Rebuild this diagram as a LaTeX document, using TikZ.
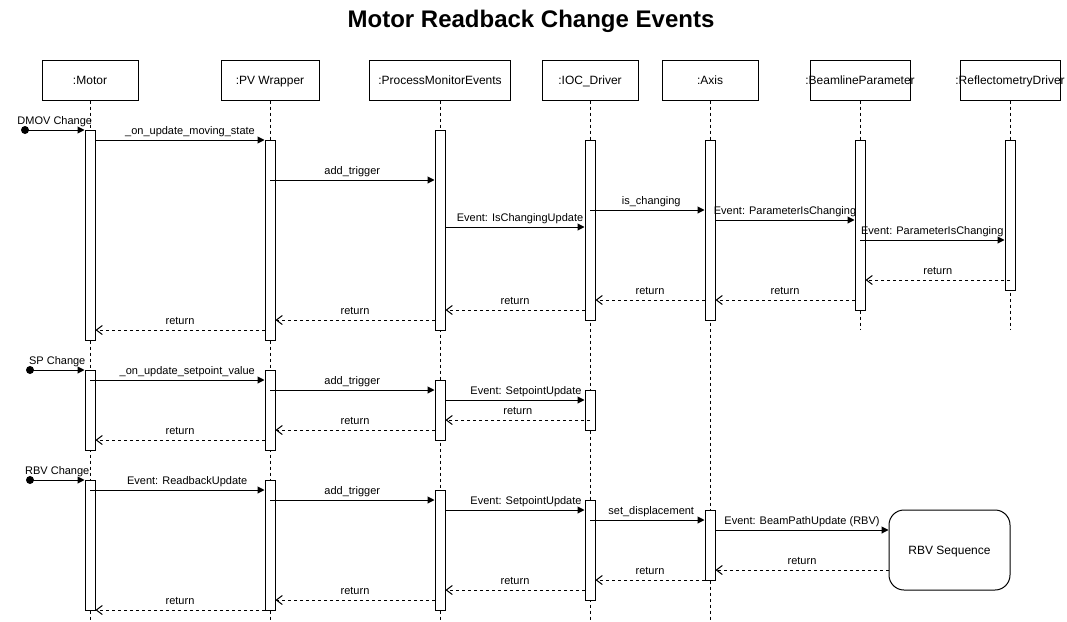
\documentclass[tikz,border=0pt]{standalone}
\usepackage{fontspec}
\setmainfont{Liberation Sans}
\usepackage{tikz}
\usetikzlibrary{arrows}
\usetikzlibrary{arrows.meta}

\tikzset{
  head/.style={draw, line width=1pt, minimum height=40pt, inner sep=0pt, text height=8.6pt, text depth=0pt, font=\fontsize{12}{14}\selectfont},
  life/.style={line width=1pt, dash pattern=on 3pt off 3pt},
  act/.style={draw, fill=white, line width=1pt, minimum width=10pt, inner sep=0pt, anchor=north},
  call/.style={line width=1pt, -{Triangle[length=7pt,width=7pt]}},
  ret/.style={line width=1pt, dash pattern=on 3pt off 3pt, -{Straight Barb[length=6pt,width=9pt]}},
  lbl/.style={anchor=base, yshift=5.5pt, inner sep=0pt, font=\fontsize{11}{13}\selectfont},
  seqbox/.style={draw, line width=1pt, rounded corners=15pt, minimum width=121pt, minimum height=80pt, text height=8.6pt, text depth=0pt, font=\fontsize{12}{14}\selectfont}
}

\begin{document}
\begin{tikzpicture}[x=1pt,y=-1pt]
\useasboundingbox (0,0) rectangle (1067,621);
\node[font=\fontsize{24}{29}\selectfont\bfseries] (title) at (531,21) {Motor Readback Change Events};

% lifelines
\foreach \nm/\x/\w/\txt in {mot/90/96/:Motor, pvw/270/98/:PV Wrapper, pme/440/141/:ProcessMonitorEvents,
    ioc/590/96/:IOC\_Driver, axis/710/96/:Axis, bp/860/100/:BeamlineParameter, rd/1010/100/:ReflectometryDriver}
  \node[head, minimum width=\w pt] (\nm) at (\x,80) {\makebox[0pt]{\txt}};
\foreach \nm/\e in {mot/620, pvw/620, pme/620, ioc/620, axis/620, bp/330, rd/330}
  \draw[life] (\nm.south) -- (\nm.south |- 0,\e);

% activations
\foreach \nm/\ln/\t/\h in {mot1/mot/130/210, pvw1/pvw/140/200, pme1/pme/130/200, ioc1/ioc/140/180,
    axis1/axis/140/180, bp1/bp/140/170, rd1/rd/140/150,
    mot2/mot/370/80, pvw2/pvw/370/80, pme2/pme/380/60, ioc2/ioc/390/40,
    mot3/mot/480/130, pvw3/pvw/480/130, pme3/pme/490/120, ioc3/ioc/500/100, axis3/axis/510/70}
  \node[act, minimum height=\h pt] (\nm) at (\ln.south |- 0,\t) {};
\node[seqbox] (rbvseq) at (949.5,550) {RBV Sequence};

% DMOV change
\coordinate (dmov) at (25,130);
\fill (dmov) circle[radius=4pt];
\draw[call] (dmov) -- node[lbl] {DMOV Change} (mot1.west |- dmov);
\draw[call] (mot1.east |- 0,140) -- node[lbl, xshift=10pt] {\_on\_update\_moving\_state} (pvw1.west |- 0,140);
\draw[call] (pvw1.center |- 0,180) -- node[lbl] {add\_trigger} (pme1.west |- 0,180);
\draw[call] (ioc1.center |- 0,210) -- node[lbl, xshift=4pt] {is\_changing} (axis1.west |- 0,210);
\draw[call] (axis1.east |- 0,220) -- node[lbl] {Event: ParameterIsChanging} (bp1.west |- 0,220);
\draw[call] (pme1.east |- 0,227) -- node[lbl, xshift=5pt] {Event: IsChangingUpdate} (ioc1.west |- 0,227);
\draw[call] (bp1.center |- 0,240) -- node[lbl] {Event: ParameterIsChanging} (rd1.west |- 0,240);
\draw[ret] (rd1.center |- 0,280) -- node[lbl] {return} (bp1.east |- 0,280);
\draw[ret] (bp1.west |- 0,300) -- node[lbl] {return} (axis1.east |- 0,300);
\draw[ret] (axis1.west |- 0,300) -- node[lbl] {return} (ioc1.east |- 0,300);
\draw[ret] (ioc1.west |- 0,310) -- node[lbl] {return} (pme1.east |- 0,310);
\draw[ret] (pme1.west |- 0,320) -- node[lbl] {return} (pvw1.east |- 0,320);
\draw[ret] (pvw1.west |- 0,330) -- node[lbl] {return} (mot1.east |- 0,330);

% SP change
\coordinate (sp) at (30,370);
\fill (sp) circle[radius=4pt];
\draw[call] (sp) -- node[lbl] {SP Change} (mot2.west |- sp);
\draw[call] (mot2.center |- 0,380) -- node[lbl, xshift=10pt] {\_on\_update\_setpoint\_value} (pvw2.west |- 0,380);
\draw[call] (pvw2.center |- 0,390) -- node[lbl] {add\_trigger} (pme2.west |- 0,390);
\draw[call] (pme2.east |- 0,400) -- node[lbl, xshift=11pt] {Event: SetpointUpdate} (ioc2.west |- 0,400);
\draw[ret] (ioc2.center |- 0,420) -- node[lbl] {return} (pme2.east |- 0,420);
\draw[ret] (pme2.west |- 0,430) -- node[lbl] {return} (pvw2.east |- 0,430);
\draw[ret] (pvw2.west |- 0,440) -- node[lbl] {return} (mot2.east |- 0,440);

% RBV change
\coordinate (rbv) at (30,480);
\fill (rbv) circle[radius=4pt];
\draw[call] (rbv) -- node[lbl] {RBV Change} (mot3.west |- rbv);
\draw[call] (mot3.center |- 0,490) -- node[lbl, xshift=10pt] {Event: ReadbackUpdate} (pvw3.west |- 0,490);
\draw[call] (pvw3.center |- 0,500) -- node[lbl] {add\_trigger} (pme3.west |- 0,500);
\draw[call] (pme3.east |- 0,510) -- node[lbl, xshift=11pt] {Event: SetpointUpdate} (ioc3.west |- 0,510);
\draw[call] (ioc3.center |- 0,520) -- node[lbl, xshift=4pt] {set\_displacement} (axis3.west |- 0,520);
\draw[call] (axis3.east |- 0,530) -- node[lbl] {Event: BeamPathUpdate (RBV)} (rbvseq.west |- 0,530);
\draw[ret] (rbvseq.west |- 0,570) -- node[lbl] {return} (axis3.east |- 0,570);
\draw[ret] (axis3.west |- 0,580) -- node[lbl] {return} (ioc3.east |- 0,580);
\draw[ret] (ioc3.west |- 0,590) -- node[lbl] {return} (pme3.east |- 0,590);
\draw[ret] (pme3.west |- 0,600) -- node[lbl] {return} (pvw3.east |- 0,600);
\draw[ret] (pvw3.west |- 0,610) -- node[lbl] {return} (mot3.east |- 0,610);
\end{tikzpicture}
\end{document}
